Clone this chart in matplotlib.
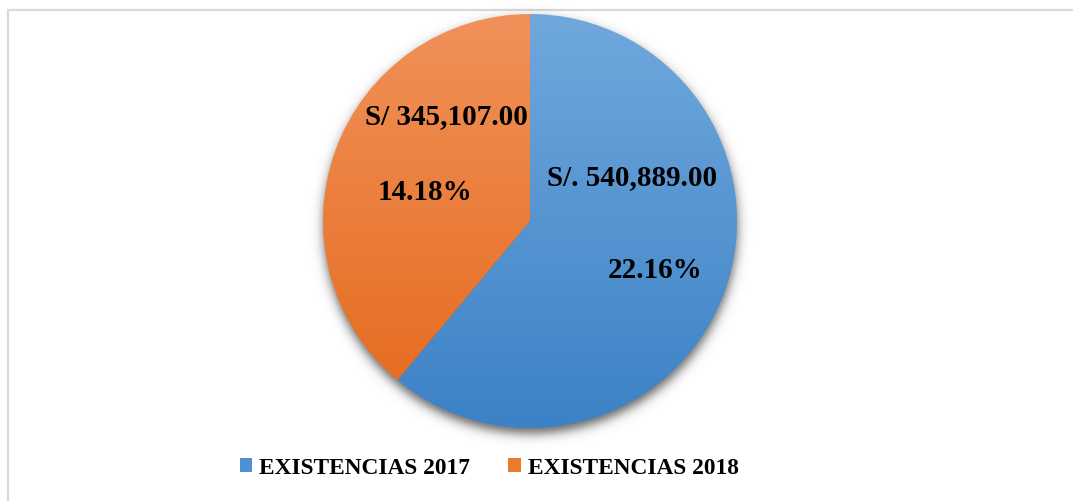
import numpy as np
import matplotlib
matplotlib.use("Agg")
import matplotlib.pyplot as plt
from matplotlib.patches import Rectangle, Patch
from matplotlib.colors import LinearSegmentedColormap

# Inventory totals by year
categories = ["EXISTENCIAS 2017", "EXISTENCIAS 2018"]
values = [540889.00, 345107.00]
value_labels = ["S/. 540,889.00", "S/ 345,107.00"]
percent_labels = ["22.16%", "14.18%"]

W, H = 1073, 501
fig = plt.figure(figsize=(W / 100, H / 100), dpi=100)
ax = fig.add_axes([0, 0, 1, 1])
ax.set_xlim(0, W)
ax.set_ylim(0, H)
ax.set_aspect("equal")
ax.axis("off")

cx, cy, R = 530, H - 221, 207

# chart frame
ax.add_patch(Rectangle((8, -20), W + 20, H - 10 + 20, fill=False,
                       edgecolor="#d9d9d9", linewidth=1.6, zorder=0))

# soft drop shadow under the pie
yy, xx = np.mgrid[0:H, 0:W]
d = np.hypot(xx - cx, (H - yy) - (cy - 5))
shadow = 0.6 / (1 + np.exp((d - R) / 3.2))
rgba = np.zeros((H, W, 4))
rgba[..., 3] = shadow
ax.imshow(rgba, extent=(0, W, 0, H), origin="upper", zorder=1, interpolation="bilinear")

wedges, _ = ax.pie(values, startangle=90, counterclock=False, center=(cx, cy),
                   radius=R, colors=["#5b9bd5", "#ed7d31"],
                   wedgeprops=dict(linewidth=0), frame=True)
ax.set_xlim(0, W)
ax.set_ylim(0, H)
ax.axis("off")

gradients = [("#70a8dd", "#3c82c6"), ("#f1915a", "#e4691a")]
grad = np.linspace(0, 1, 256).reshape(-1, 1)
for w, (top, bottom) in zip(wedges, gradients):
    w.set_facecolor("none")
    w.set_zorder(2)
    cmap = LinearSegmentedColormap.from_list("g", [top, bottom])
    im = ax.imshow(grad, cmap=cmap, aspect="auto",
                   extent=(cx - R, cx + R, cy - R, cy + R),
                   origin="upper", zorder=2)
    im.set_clip_path(w)

font = dict(family="Liberation Serif", fontweight="bold", color="black", zorder=5,
            ha="center", va="center")
ax.text(632, H - 178, value_labels[0], fontsize=21, **font)
ax.text(655, H - 270, percent_labels[0], fontsize=21, **font)
ax.text(446, H - 117, value_labels[1], fontsize=21, **font)
ax.text(425, H - 192, percent_labels[1], fontsize=21, **font)

handles = [Patch(facecolor="#4f90d2", edgecolor="none"),
           Patch(facecolor="#ec7a2c", edgecolor="none")]
leg = ax.legend(handles, categories, loc="center", bbox_to_anchor=(489 / W, 1 - 468 / H),
                ncol=2, frameon=False, handlelength=0.55, handleheight=0.55,
                handletextpad=0.3, columnspacing=1.6,
                prop=dict(family="Liberation Serif", weight="bold", size=16.8))

fig.savefig("out.png", dpi=100)
